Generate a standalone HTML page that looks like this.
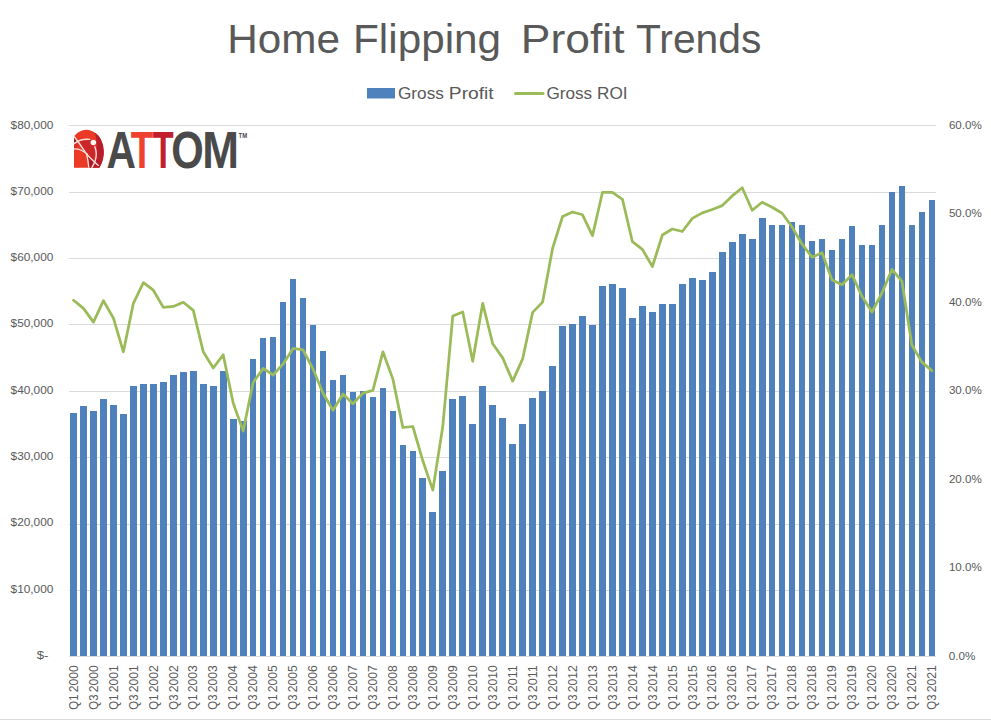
<!DOCTYPE html>
<html lang="en">
<head>
<meta charset="utf-8">
<title>Home Flipping Profit Trends</title>
<style>
html,body{margin:0;padding:0;background:#fff;}
body{width:991px;height:723px;overflow:hidden;}
svg{display:block;}
text{font-family:"Liberation Sans",sans-serif;fill:#595959;}
</style>
</head>
<body>
<svg width="991" height="723" viewBox="0 0 991 723">
<rect x="0" y="0" width="991" height="723" fill="#ffffff"/>

<g stroke="#dbdbdb" stroke-width="1" shape-rendering="crispEdges">
<line x1="69" y1="125.5" x2="936" y2="125.5"/>
<line x1="69" y1="192.5" x2="936" y2="192.5"/>
<line x1="69" y1="258.5" x2="936" y2="258.5"/>
<line x1="69" y1="324.5" x2="936" y2="324.5"/>
<line x1="69" y1="391.5" x2="936" y2="391.5"/>
<line x1="69" y1="457.5" x2="936" y2="457.5"/>
<line x1="69" y1="524.5" x2="936" y2="524.5"/>
<line x1="69" y1="590.5" x2="936" y2="590.5"/>
</g>
<g fill="#4f81bd" shape-rendering="crispEdges">
<rect x="70" y="413" width="7" height="243"/>
<rect x="80" y="406" width="7" height="250"/>
<rect x="90" y="411" width="7" height="245"/>
<rect x="100" y="399" width="7" height="257"/>
<rect x="110" y="405" width="7" height="251"/>
<rect x="120" y="414" width="7" height="242"/>
<rect x="130" y="386" width="7" height="270"/>
<rect x="140" y="384" width="7" height="272"/>
<rect x="150" y="384" width="7" height="272"/>
<rect x="160" y="382" width="7" height="274"/>
<rect x="170" y="375" width="7" height="281"/>
<rect x="180" y="372" width="7" height="284"/>
<rect x="190" y="371" width="7" height="285"/>
<rect x="200" y="384" width="7" height="272"/>
<rect x="210" y="386" width="7" height="270"/>
<rect x="220" y="371" width="7" height="285"/>
<rect x="230" y="419" width="7" height="237"/>
<rect x="240" y="421" width="7" height="235"/>
<rect x="250" y="359" width="6" height="297"/>
<rect x="260" y="338" width="6" height="318"/>
<rect x="270" y="337" width="6" height="319"/>
<rect x="280" y="302" width="6" height="354"/>
<rect x="290" y="279" width="6" height="377"/>
<rect x="300" y="298" width="6" height="358"/>
<rect x="310" y="325" width="6" height="331"/>
<rect x="320" y="351" width="6" height="305"/>
<rect x="330" y="380" width="6" height="276"/>
<rect x="340" y="375" width="6" height="281"/>
<rect x="350" y="392" width="6" height="264"/>
<rect x="360" y="391" width="6" height="265"/>
<rect x="370" y="397" width="6" height="259"/>
<rect x="380" y="388" width="6" height="268"/>
<rect x="390" y="411" width="6" height="245"/>
<rect x="400" y="445" width="6" height="211"/>
<rect x="410" y="451" width="6" height="205"/>
<rect x="419" y="478" width="7" height="178"/>
<rect x="429" y="512" width="7" height="144"/>
<rect x="439" y="471" width="7" height="185"/>
<rect x="449" y="399" width="7" height="257"/>
<rect x="459" y="396" width="7" height="260"/>
<rect x="469" y="424" width="7" height="232"/>
<rect x="479" y="386" width="7" height="270"/>
<rect x="489" y="405" width="7" height="251"/>
<rect x="499" y="418" width="7" height="238"/>
<rect x="509" y="444" width="7" height="212"/>
<rect x="519" y="424" width="7" height="232"/>
<rect x="529" y="398" width="7" height="258"/>
<rect x="539" y="391" width="7" height="265"/>
<rect x="549" y="366" width="7" height="290"/>
<rect x="559" y="326" width="7" height="330"/>
<rect x="569" y="324" width="7" height="332"/>
<rect x="579" y="316" width="7" height="340"/>
<rect x="589" y="325" width="7" height="331"/>
<rect x="599" y="286" width="7" height="370"/>
<rect x="609" y="284" width="7" height="372"/>
<rect x="619" y="288" width="7" height="368"/>
<rect x="629" y="318" width="7" height="338"/>
<rect x="639" y="306" width="7" height="350"/>
<rect x="649" y="312" width="7" height="344"/>
<rect x="659" y="304" width="7" height="352"/>
<rect x="669" y="304" width="7" height="352"/>
<rect x="679" y="284" width="7" height="372"/>
<rect x="689" y="278" width="7" height="378"/>
<rect x="699" y="280" width="7" height="376"/>
<rect x="709" y="272" width="7" height="384"/>
<rect x="719" y="252" width="7" height="404"/>
<rect x="729" y="242" width="7" height="414"/>
<rect x="739" y="234" width="7" height="422"/>
<rect x="749" y="239" width="7" height="417"/>
<rect x="759" y="218" width="7" height="438"/>
<rect x="769" y="225" width="6" height="431"/>
<rect x="779" y="225" width="6" height="431"/>
<rect x="789" y="222" width="6" height="434"/>
<rect x="799" y="225" width="6" height="431"/>
<rect x="809" y="241" width="6" height="415"/>
<rect x="819" y="239" width="6" height="417"/>
<rect x="829" y="250" width="6" height="406"/>
<rect x="839" y="239" width="6" height="417"/>
<rect x="849" y="226" width="6" height="430"/>
<rect x="859" y="245" width="6" height="411"/>
<rect x="869" y="245" width="6" height="411"/>
<rect x="879" y="225" width="6" height="431"/>
<rect x="889" y="192" width="6" height="464"/>
<rect x="899" y="186" width="6" height="470"/>
<rect x="909" y="225" width="6" height="431"/>
<rect x="919" y="212" width="6" height="444"/>
<rect x="929" y="200" width="6" height="456"/>
</g>
<line x1="69" y1="656.5" x2="936" y2="656.5" stroke="#d9d9d9" stroke-width="1" shape-rendering="crispEdges"/>
<polyline points="73.50,300.3 83.48,308.4 93.46,322.1 103.44,300.7 113.42,318.1 123.40,351.8 133.39,303.3 143.37,282.7 153.35,290.2 163.33,307.4 173.31,306.4 183.29,302.3 193.27,310.4 203.25,351.8 213.23,368.0 223.21,354.8 233.19,403.0 243.17,431.0 253.15,382.5 263.14,368.4 273.12,375.0 283.10,363.9 293.08,348.4 303.06,349.8 313.04,369.0 323.02,393.2 333.00,410.4 342.98,394.0 352.96,403.8 362.94,393.1 372.92,390.4 382.91,351.8 392.89,379.1 402.87,427.5 412.85,426.5 422.83,460.8 432.81,490.1 442.79,426.5 452.77,316.1 462.75,312.0 472.73,361.3 482.71,303.3 492.69,343.7 502.67,357.9 512.66,381.1 522.64,358.9 532.62,312.4 542.60,302.1 552.58,248.4 562.56,216.5 572.54,212.0 582.52,214.8 592.50,235.7 602.48,192.3 612.46,192.3 622.44,199.3 632.43,241.7 642.41,249.4 652.39,266.5 662.37,235.0 672.35,229.0 682.33,231.5 692.31,218.4 702.29,212.9 712.27,209.5 722.25,205.6 732.23,195.9 742.21,187.7 752.19,210.3 762.18,202.2 772.16,207.3 782.14,213.3 792.12,227.0 802.10,244.2 812.08,257.2 822.06,252.8 832.04,280.1 842.02,284.7 852.00,274.6 861.98,296.3 871.96,312.0 881.95,293.0 891.93,269.5 901.91,281.2 911.89,345.0 921.87,362.1 931.85,370.6" fill="none" stroke="#9bbb59" stroke-width="2.75" stroke-linejoin="round" stroke-linecap="round"/>
<text y="52.9" font-size="41.2"><tspan x="227.22" textLength="112.76" lengthAdjust="spacingAndGlyphs">Home</tspan> <tspan x="353.05" textLength="148.07" lengthAdjust="spacingAndGlyphs">Flipping</tspan>  <tspan x="520.87" textLength="103.67" lengthAdjust="spacingAndGlyphs">Profit</tspan> <tspan x="635.96" textLength="125.4" lengthAdjust="spacingAndGlyphs">Trends</tspan></text>
<rect x="367" y="88" width="28" height="10.5" fill="#4f81bd"/>
<line x1="515.5" y1="93.5" x2="543" y2="93.5" stroke="#9bbb59" stroke-width="3" stroke-linecap="round"/>
<text y="98.6" font-size="17.2"><tspan x="397.92" textLength="45.99" lengthAdjust="spacingAndGlyphs">Gross</tspan> <tspan x="448.83" textLength="44.82" lengthAdjust="spacingAndGlyphs">Profit</tspan></text>
<text y="98.6" font-size="17.2"><tspan x="546.42" textLength="45.79" lengthAdjust="spacingAndGlyphs">Gross</tspan> <tspan x="597.0" textLength="30.58" lengthAdjust="spacingAndGlyphs">ROI</tspan></text>
<text x="10.58" y="592.5" font-size="11.4" textLength="42.78" lengthAdjust="spacingAndGlyphs">$10,000</text>
<text x="10.58" y="526.2" font-size="11.4" textLength="42.78" lengthAdjust="spacingAndGlyphs">$20,000</text>
<text x="10.58" y="459.9" font-size="11.4" textLength="42.78" lengthAdjust="spacingAndGlyphs">$30,000</text>
<text x="10.58" y="393.6" font-size="11.4" textLength="42.78" lengthAdjust="spacingAndGlyphs">$40,000</text>
<text x="10.58" y="327.3" font-size="11.4" textLength="42.78" lengthAdjust="spacingAndGlyphs">$50,000</text>
<text x="10.58" y="261.1" font-size="11.4" textLength="42.78" lengthAdjust="spacingAndGlyphs">$60,000</text>
<text x="10.58" y="194.8" font-size="11.4" textLength="42.78" lengthAdjust="spacingAndGlyphs">$70,000</text>
<text x="10.58" y="128.5" font-size="11.4" textLength="42.78" lengthAdjust="spacingAndGlyphs">$80,000</text>
<text x="36.82" y="659.3" font-size="11.4" textLength="11.67" lengthAdjust="spacingAndGlyphs">$-</text>
<text x="948.73" y="659.6" font-size="11.4" textLength="26.59" lengthAdjust="spacingAndGlyphs">0.0%</text>
<text x="948.9" y="571.1" font-size="11.4" textLength="32.81" lengthAdjust="spacingAndGlyphs">10.0%</text>
<text x="948.9" y="482.6" font-size="11.4" textLength="32.81" lengthAdjust="spacingAndGlyphs">20.0%</text>
<text x="948.9" y="394.1" font-size="11.4" textLength="32.81" lengthAdjust="spacingAndGlyphs">30.0%</text>
<text x="948.9" y="305.6" font-size="11.4" textLength="32.81" lengthAdjust="spacingAndGlyphs">40.0%</text>
<text x="948.9" y="217.1" font-size="11.4" textLength="32.81" lengthAdjust="spacingAndGlyphs">50.0%</text>
<text x="948.9" y="128.6" font-size="11.4" textLength="32.81" lengthAdjust="spacingAndGlyphs">60.0%</text>
<text transform="translate(77.70,709.1) rotate(-90)" font-size="12"><tspan x="-0.54" textLength="15.2" lengthAdjust="spacingAndGlyphs">Q1</tspan> <tspan x="16.79" textLength="27" lengthAdjust="spacingAndGlyphs">2000</tspan></text>
<text transform="translate(97.66,709.1) rotate(-90)" font-size="12"><tspan x="-0.54" textLength="15.2" lengthAdjust="spacingAndGlyphs">Q3</tspan> <tspan x="16.79" textLength="27" lengthAdjust="spacingAndGlyphs">2000</tspan></text>
<text transform="translate(117.62,709.1) rotate(-90)" font-size="12"><tspan x="-0.54" textLength="15.2" lengthAdjust="spacingAndGlyphs">Q1</tspan> <tspan x="16.79" textLength="27" lengthAdjust="spacingAndGlyphs">2001</tspan></text>
<text transform="translate(137.59,709.1) rotate(-90)" font-size="12"><tspan x="-0.54" textLength="15.2" lengthAdjust="spacingAndGlyphs">Q3</tspan> <tspan x="16.79" textLength="27" lengthAdjust="spacingAndGlyphs">2001</tspan></text>
<text transform="translate(157.55,709.1) rotate(-90)" font-size="12"><tspan x="-0.54" textLength="15.2" lengthAdjust="spacingAndGlyphs">Q1</tspan> <tspan x="16.79" textLength="27" lengthAdjust="spacingAndGlyphs">2002</tspan></text>
<text transform="translate(177.51,709.1) rotate(-90)" font-size="12"><tspan x="-0.54" textLength="15.2" lengthAdjust="spacingAndGlyphs">Q3</tspan> <tspan x="16.79" textLength="27" lengthAdjust="spacingAndGlyphs">2002</tspan></text>
<text transform="translate(197.47,709.1) rotate(-90)" font-size="12"><tspan x="-0.54" textLength="15.2" lengthAdjust="spacingAndGlyphs">Q1</tspan> <tspan x="16.79" textLength="27" lengthAdjust="spacingAndGlyphs">2003</tspan></text>
<text transform="translate(217.43,709.1) rotate(-90)" font-size="12"><tspan x="-0.54" textLength="15.2" lengthAdjust="spacingAndGlyphs">Q3</tspan> <tspan x="16.79" textLength="27" lengthAdjust="spacingAndGlyphs">2003</tspan></text>
<text transform="translate(237.39,709.1) rotate(-90)" font-size="12"><tspan x="-0.54" textLength="15.2" lengthAdjust="spacingAndGlyphs">Q1</tspan> <tspan x="16.79" textLength="27" lengthAdjust="spacingAndGlyphs">2004</tspan></text>
<text transform="translate(257.35,709.1) rotate(-90)" font-size="12"><tspan x="-0.54" textLength="15.2" lengthAdjust="spacingAndGlyphs">Q3</tspan> <tspan x="16.79" textLength="27" lengthAdjust="spacingAndGlyphs">2004</tspan></text>
<text transform="translate(277.32,709.1) rotate(-90)" font-size="12"><tspan x="-0.54" textLength="15.2" lengthAdjust="spacingAndGlyphs">Q1</tspan> <tspan x="16.79" textLength="27" lengthAdjust="spacingAndGlyphs">2005</tspan></text>
<text transform="translate(297.28,709.1) rotate(-90)" font-size="12"><tspan x="-0.54" textLength="15.2" lengthAdjust="spacingAndGlyphs">Q3</tspan> <tspan x="16.79" textLength="27" lengthAdjust="spacingAndGlyphs">2005</tspan></text>
<text transform="translate(317.24,709.1) rotate(-90)" font-size="12"><tspan x="-0.54" textLength="15.2" lengthAdjust="spacingAndGlyphs">Q1</tspan> <tspan x="16.79" textLength="27" lengthAdjust="spacingAndGlyphs">2006</tspan></text>
<text transform="translate(337.20,709.1) rotate(-90)" font-size="12"><tspan x="-0.54" textLength="15.2" lengthAdjust="spacingAndGlyphs">Q3</tspan> <tspan x="16.79" textLength="27" lengthAdjust="spacingAndGlyphs">2006</tspan></text>
<text transform="translate(357.16,709.1) rotate(-90)" font-size="12"><tspan x="-0.54" textLength="15.2" lengthAdjust="spacingAndGlyphs">Q1</tspan> <tspan x="16.79" textLength="27" lengthAdjust="spacingAndGlyphs">2007</tspan></text>
<text transform="translate(377.12,709.1) rotate(-90)" font-size="12"><tspan x="-0.54" textLength="15.2" lengthAdjust="spacingAndGlyphs">Q3</tspan> <tspan x="16.79" textLength="27" lengthAdjust="spacingAndGlyphs">2007</tspan></text>
<text transform="translate(397.09,709.1) rotate(-90)" font-size="12"><tspan x="-0.54" textLength="15.2" lengthAdjust="spacingAndGlyphs">Q1</tspan> <tspan x="16.79" textLength="27" lengthAdjust="spacingAndGlyphs">2008</tspan></text>
<text transform="translate(417.05,709.1) rotate(-90)" font-size="12"><tspan x="-0.54" textLength="15.2" lengthAdjust="spacingAndGlyphs">Q3</tspan> <tspan x="16.79" textLength="27" lengthAdjust="spacingAndGlyphs">2008</tspan></text>
<text transform="translate(437.01,709.1) rotate(-90)" font-size="12"><tspan x="-0.54" textLength="15.2" lengthAdjust="spacingAndGlyphs">Q1</tspan> <tspan x="16.79" textLength="27" lengthAdjust="spacingAndGlyphs">2009</tspan></text>
<text transform="translate(456.97,709.1) rotate(-90)" font-size="12"><tspan x="-0.54" textLength="15.2" lengthAdjust="spacingAndGlyphs">Q3</tspan> <tspan x="16.79" textLength="27" lengthAdjust="spacingAndGlyphs">2009</tspan></text>
<text transform="translate(476.93,709.1) rotate(-90)" font-size="12"><tspan x="-0.54" textLength="15.2" lengthAdjust="spacingAndGlyphs">Q1</tspan> <tspan x="16.79" textLength="27" lengthAdjust="spacingAndGlyphs">2010</tspan></text>
<text transform="translate(496.89,709.1) rotate(-90)" font-size="12"><tspan x="-0.54" textLength="15.2" lengthAdjust="spacingAndGlyphs">Q3</tspan> <tspan x="16.79" textLength="27" lengthAdjust="spacingAndGlyphs">2010</tspan></text>
<text transform="translate(516.86,709.1) rotate(-90)" font-size="12"><tspan x="-0.54" textLength="15.2" lengthAdjust="spacingAndGlyphs">Q1</tspan> <tspan x="16.79" textLength="27" lengthAdjust="spacingAndGlyphs">2011</tspan></text>
<text transform="translate(536.82,709.1) rotate(-90)" font-size="12"><tspan x="-0.54" textLength="15.2" lengthAdjust="spacingAndGlyphs">Q3</tspan> <tspan x="16.79" textLength="27" lengthAdjust="spacingAndGlyphs">2011</tspan></text>
<text transform="translate(556.78,709.1) rotate(-90)" font-size="12"><tspan x="-0.54" textLength="15.2" lengthAdjust="spacingAndGlyphs">Q1</tspan> <tspan x="16.79" textLength="27" lengthAdjust="spacingAndGlyphs">2012</tspan></text>
<text transform="translate(576.74,709.1) rotate(-90)" font-size="12"><tspan x="-0.54" textLength="15.2" lengthAdjust="spacingAndGlyphs">Q3</tspan> <tspan x="16.79" textLength="27" lengthAdjust="spacingAndGlyphs">2012</tspan></text>
<text transform="translate(596.70,709.1) rotate(-90)" font-size="12"><tspan x="-0.54" textLength="15.2" lengthAdjust="spacingAndGlyphs">Q1</tspan> <tspan x="16.79" textLength="27" lengthAdjust="spacingAndGlyphs">2013</tspan></text>
<text transform="translate(616.66,709.1) rotate(-90)" font-size="12"><tspan x="-0.54" textLength="15.2" lengthAdjust="spacingAndGlyphs">Q3</tspan> <tspan x="16.79" textLength="27" lengthAdjust="spacingAndGlyphs">2013</tspan></text>
<text transform="translate(636.63,709.1) rotate(-90)" font-size="12"><tspan x="-0.54" textLength="15.2" lengthAdjust="spacingAndGlyphs">Q1</tspan> <tspan x="16.79" textLength="27" lengthAdjust="spacingAndGlyphs">2014</tspan></text>
<text transform="translate(656.59,709.1) rotate(-90)" font-size="12"><tspan x="-0.54" textLength="15.2" lengthAdjust="spacingAndGlyphs">Q3</tspan> <tspan x="16.79" textLength="27" lengthAdjust="spacingAndGlyphs">2014</tspan></text>
<text transform="translate(676.55,709.1) rotate(-90)" font-size="12"><tspan x="-0.54" textLength="15.2" lengthAdjust="spacingAndGlyphs">Q1</tspan> <tspan x="16.79" textLength="27" lengthAdjust="spacingAndGlyphs">2015</tspan></text>
<text transform="translate(696.51,709.1) rotate(-90)" font-size="12"><tspan x="-0.54" textLength="15.2" lengthAdjust="spacingAndGlyphs">Q3</tspan> <tspan x="16.79" textLength="27" lengthAdjust="spacingAndGlyphs">2015</tspan></text>
<text transform="translate(716.47,709.1) rotate(-90)" font-size="12"><tspan x="-0.54" textLength="15.2" lengthAdjust="spacingAndGlyphs">Q1</tspan> <tspan x="16.79" textLength="27" lengthAdjust="spacingAndGlyphs">2016</tspan></text>
<text transform="translate(736.43,709.1) rotate(-90)" font-size="12"><tspan x="-0.54" textLength="15.2" lengthAdjust="spacingAndGlyphs">Q3</tspan> <tspan x="16.79" textLength="27" lengthAdjust="spacingAndGlyphs">2016</tspan></text>
<text transform="translate(756.39,709.1) rotate(-90)" font-size="12"><tspan x="-0.54" textLength="15.2" lengthAdjust="spacingAndGlyphs">Q1</tspan> <tspan x="16.79" textLength="27" lengthAdjust="spacingAndGlyphs">2017</tspan></text>
<text transform="translate(776.36,709.1) rotate(-90)" font-size="12"><tspan x="-0.54" textLength="15.2" lengthAdjust="spacingAndGlyphs">Q3</tspan> <tspan x="16.79" textLength="27" lengthAdjust="spacingAndGlyphs">2017</tspan></text>
<text transform="translate(796.32,709.1) rotate(-90)" font-size="12"><tspan x="-0.54" textLength="15.2" lengthAdjust="spacingAndGlyphs">Q1</tspan> <tspan x="16.79" textLength="27" lengthAdjust="spacingAndGlyphs">2018</tspan></text>
<text transform="translate(816.28,709.1) rotate(-90)" font-size="12"><tspan x="-0.54" textLength="15.2" lengthAdjust="spacingAndGlyphs">Q3</tspan> <tspan x="16.79" textLength="27" lengthAdjust="spacingAndGlyphs">2018</tspan></text>
<text transform="translate(836.24,709.1) rotate(-90)" font-size="12"><tspan x="-0.54" textLength="15.2" lengthAdjust="spacingAndGlyphs">Q1</tspan> <tspan x="16.79" textLength="27" lengthAdjust="spacingAndGlyphs">2019</tspan></text>
<text transform="translate(856.20,709.1) rotate(-90)" font-size="12"><tspan x="-0.54" textLength="15.2" lengthAdjust="spacingAndGlyphs">Q3</tspan> <tspan x="16.79" textLength="27" lengthAdjust="spacingAndGlyphs">2019</tspan></text>
<text transform="translate(876.16,709.1) rotate(-90)" font-size="12"><tspan x="-0.54" textLength="15.2" lengthAdjust="spacingAndGlyphs">Q1</tspan> <tspan x="16.79" textLength="27" lengthAdjust="spacingAndGlyphs">2020</tspan></text>
<text transform="translate(896.13,709.1) rotate(-90)" font-size="12"><tspan x="-0.54" textLength="15.2" lengthAdjust="spacingAndGlyphs">Q3</tspan> <tspan x="16.79" textLength="27" lengthAdjust="spacingAndGlyphs">2020</tspan></text>
<text transform="translate(916.09,709.1) rotate(-90)" font-size="12"><tspan x="-0.54" textLength="15.2" lengthAdjust="spacingAndGlyphs">Q1</tspan> <tspan x="16.79" textLength="27" lengthAdjust="spacingAndGlyphs">2021</tspan></text>
<text transform="translate(936.05,709.1) rotate(-90)" font-size="12"><tspan x="-0.54" textLength="15.2" lengthAdjust="spacingAndGlyphs">Q3</tspan> <tspan x="16.79" textLength="27" lengthAdjust="spacingAndGlyphs">2021</tspan></text>
<line x1="0" y1="719.5" x2="991" y2="719.5" stroke="#d9d9d9" stroke-width="1"/>

<g>
<defs><clipPath id="dclip"><path d="M74,167.8 V136.5 A17.3,21.5 0 0 1 103.8,151.5 C103.8,158 101.8,164 99.3,167.8 Z"/></clipPath></defs>
<path d="M74,167.8 V136.5 A17.3,21.5 0 0 1 103.8,151.5 C103.8,158 101.8,164 99.3,167.8 Z" fill="#ea3926"/>
<g clip-path="url(#dclip)">
<path d="M74,143.7 C77,141.5 80,140.3 83,140 L80.7,144.9 C78.5,146.5 76,148 74,148.9 Z" fill="#d9302a"/>
<path d="M79.6,141.3 C83,139.6 86.5,139 89.6,139.3 L93,140.5 L95,147 L96.3,152.5 L93.5,160.6 L89.4,157.1 L85.4,152.4 L80.7,144.9 Z" fill="#cb2729"/>
<path d="M86.5,153.6 L89.4,157.1 L93.5,160.6 L95.6,159.5 L92,168 L88.9,168 Z" fill="#ad1b28"/>
<path d="M93.5,129 L106,129 L106,169 L92,169 C95.3,162.5 97,156.5 96.6,150.5 C96.6,146 97.6,138 93.5,129 Z" fill="#b81d2b"/>
<path d="M74,138.6 L77.6,140.6 L74,142.8 Z" fill="#8f1b22"/>
<path d="M76,152 L82,151.5 L79,167.8 L76,167.8 Z" fill="#f23e24" opacity="0.6"/>
<g fill="none" stroke="#ffe2db" stroke-width="1.35" stroke-linecap="round">
<path d="M74,143.7 C78.5,140.2 84,138.8 89.8,139.4"/>
<path d="M74.3,136.7 C78,141.5 82,147 85.4,152.4 C88,156 92,160 98.4,165.4"/>
<path d="M74,148.9 C78,148.8 83,150.2 87.2,154.3"/>
<path d="M94.8,146.8 C96.4,150.5 96.9,155 95.3,160.6 C94.2,163.5 93,166 91.6,168"/>
<path d="M86.5,153.6 C87.6,158 88.4,163 88.9,168"/>
</g>
</g>
<circle cx="93.3" cy="142.6" r="2.75" fill="#fff6f3"/>
<text y="167.6" font-weight="bold" font-size="51.8"><tspan x="106.4" textLength="29.44" lengthAdjust="spacingAndGlyphs" style="fill:#4a4a4a">A</tspan><tspan x="130.85" textLength="22.53" lengthAdjust="spacingAndGlyphs" style="fill:#ee4130">T</tspan><tspan x="152.7" textLength="20.88" lengthAdjust="spacingAndGlyphs" style="fill:#c2202e">T</tspan><tspan x="171.3" textLength="32.52" lengthAdjust="spacingAndGlyphs" style="fill:#4a4a4a">O</tspan><tspan x="202.2" textLength="36.72" lengthAdjust="spacingAndGlyphs" style="fill:#4a4a4a">M</tspan></text>
<text x="238.5" y="137.7" font-weight="bold" font-size="7" textLength="8.6" lengthAdjust="spacingAndGlyphs" style="fill:#4a4a4a">TM</text>
</g>

</svg>
</body>
</html>
